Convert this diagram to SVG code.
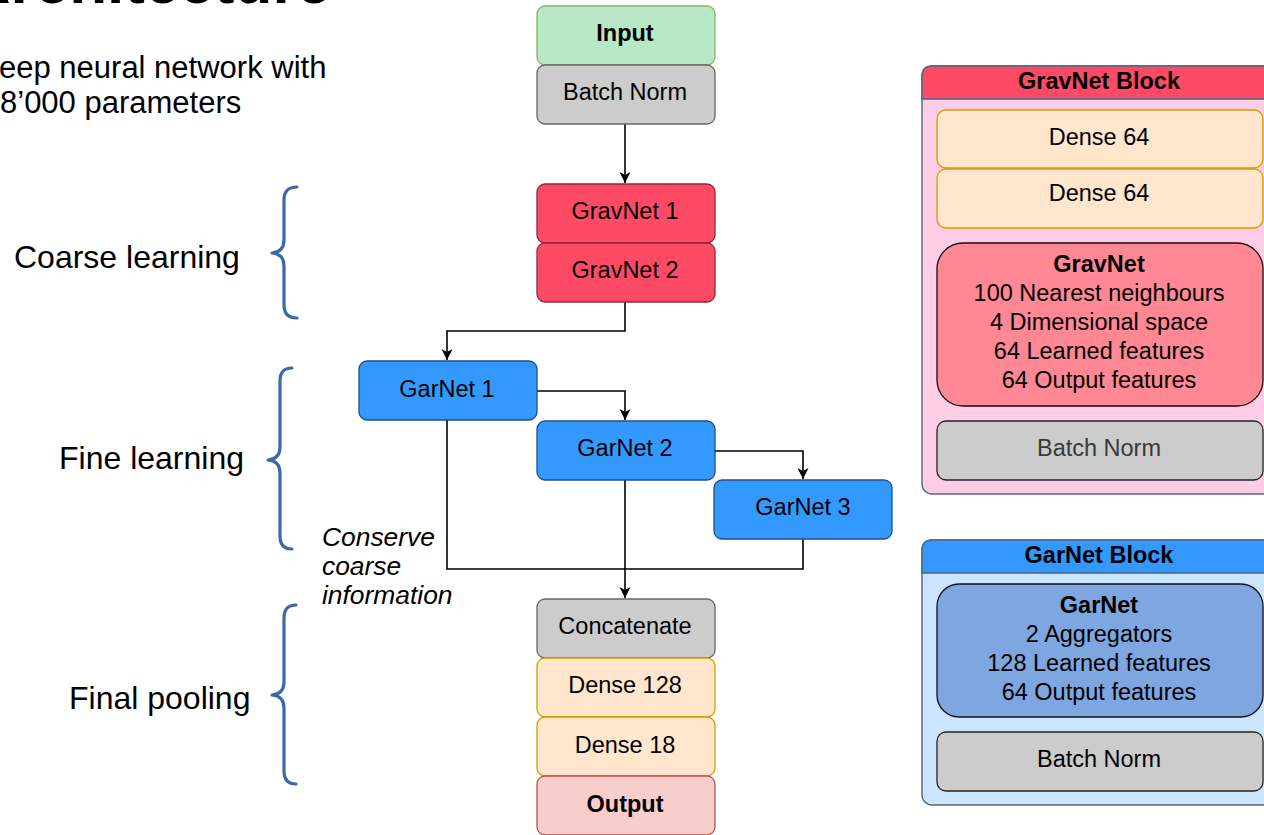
<svg xmlns="http://www.w3.org/2000/svg" width="1264" height="835" viewBox="0 0 1264 835">
  <style>
    text { font-family: "Liberation Sans", Arial, sans-serif; fill: #000; }
    .lbl { font-size: 23.5px; text-anchor: middle; }
    .b { font-weight: bold; }
    .sub { font-size: 31px; }
    .side { font-size: 32px; }
    .note { font-size: 26.4px; font-style: italic; }
    .brace { fill: none; stroke: #3b68a8; stroke-width: 3.2; stroke-linecap: round; stroke-linejoin: round; }
    .edge { fill: none; stroke: #000; stroke-width: 1.6; }
    .in { fill: #b9e8c6; stroke: #82b366; stroke-width: 1.3; }
    .gray { fill: #cccccc; stroke: #666666; stroke-width: 1.3; }
    .grav { fill: #ff4a66; stroke: #8f2a3a; stroke-width: 1.3; }
    .gar { fill: #3399ff; stroke: #1f4f82; stroke-width: 1.3; }
    .dense { fill: #ffe6cc; stroke: #d79b00; stroke-width: 1.3; }
    .out { fill: #f8cecc; stroke: #b85450; stroke-width: 1.3; }
    .panel { stroke: #4d6685; stroke-width: 1.4; }
  </style>
  <defs>
    <marker id="arrow" markerWidth="12" markerHeight="12" viewBox="0 0 12 12" refX="11" refY="6" orient="auto" markerUnits="userSpaceOnUse">
      <path d="M0,0.5 L11,6 L0,11.5 L3,6 Z" fill="#000"/>
    </marker>
  </defs>

  <!-- slide heading and subtitle -->
  <g id="heading">
    <text x="331" y="3" font-size="62" font-weight="bold" text-anchor="end">Architecture</text>
    <text x="-1" y="78" class="sub">eep neural network with</text>
    <text x="0" y="113" class="sub">8’000 parameters</text>
  </g>

  <!-- stage labels with braces -->
  <g id="stage-coarse">
    <text x="14" y="268" class="side">Coarse learning</text>
    <path class="brace" d="M297,187 Q284,187 284,200 L284,240 Q284,252 272,253 Q284,254 284,266 L284,305 Q284,318 297,318"/>
  </g>
  <g id="stage-fine">
    <text x="59" y="469" class="side">Fine learning</text>
    <path class="brace" d="M292,368 Q280,368 280,381 L280,447 Q280,459 268,460 Q280,461 280,473 L280,536 Q280,549 292,549"/>
  </g>
  <g id="stage-final">
    <text x="69" y="709" class="side">Final pooling</text>
    <path class="brace" d="M296,605 Q284,605 284,618 L284,682 Q284,694 272,695 Q284,696 284,708 L284,771 Q284,784 296,784"/>
  </g>

  <!-- connectors -->
  <g id="connectors">
    <path class="edge" d="M625,124 L625,183" marker-end="url(#arrow)"/>
    <path class="edge" d="M625,302 L625,331 L447,331 L447,360" marker-end="url(#arrow)"/>
    <path class="edge" d="M537,391 L625,391 L625,420" marker-end="url(#arrow)"/>
    <path class="edge" d="M715,451 L803,451 L803,479" marker-end="url(#arrow)"/>
    <path class="edge" d="M447,420 L447,569 L803,569 L803,539"/>
    <path class="edge" d="M625,480 L625,598" marker-end="url(#arrow)"/>
  </g>

  <!-- main network column -->
  <g id="node-input">
    <rect class="in" x="537" y="6" width="178" height="59" rx="8"/>
    <text class="lbl b" x="625" y="41">Input</text>
  </g>
  <g id="node-batchnorm">
    <rect class="gray" x="537" y="65" width="178" height="59" rx="8"/>
    <text class="lbl" x="625" y="100">Batch Norm</text>
  </g>
  <g id="node-gravnet1">
    <rect class="grav" x="537" y="184" width="178" height="59" rx="8"/>
    <text class="lbl" x="625" y="219">GravNet 1</text>
  </g>
  <g id="node-gravnet2">
    <rect class="grav" x="537" y="243" width="178" height="59" rx="8"/>
    <text class="lbl" x="625" y="278">GravNet 2</text>
  </g>
  <g id="node-garnet1">
    <rect class="gar" x="359" y="361" width="178" height="59" rx="8"/>
    <text class="lbl" x="447" y="397">GarNet 1</text>
  </g>
  <g id="node-garnet2">
    <rect class="gar" x="537" y="421" width="178" height="59" rx="8"/>
    <text class="lbl" x="625" y="456">GarNet 2</text>
  </g>
  <g id="node-garnet3">
    <rect class="gar" x="714" y="480" width="178" height="59" rx="8"/>
    <text class="lbl" x="803" y="515">GarNet 3</text>
  </g>
  <g id="note-conserve">
    <text class="note" x="322" y="546">Conserve</text>
    <text class="note" x="322" y="575">coarse</text>
    <text class="note" x="322" y="604">information</text>
  </g>
  <g id="node-concatenate">
    <rect class="gray" x="537" y="599" width="178" height="59" rx="8"/>
    <text class="lbl" x="625" y="634">Concatenate</text>
  </g>
  <g id="node-dense128">
    <rect class="dense" x="537" y="658" width="178" height="59" rx="8"/>
    <text class="lbl" x="625" y="693">Dense 128</text>
  </g>
  <g id="node-dense18">
    <rect class="dense" x="537" y="717" width="178" height="59" rx="8"/>
    <text class="lbl" x="625" y="753">Dense 18</text>
  </g>
  <g id="node-output">
    <rect class="out" x="537" y="776" width="178" height="59" rx="8"/>
    <text class="lbl b" x="625" y="812">Output</text>
  </g>

  <!-- GravNet block detail -->
  <g id="gravnet-block">
    <rect class="panel" x="922" y="66" width="356" height="428" rx="10" fill="#ffcce6"/>
    <path class="panel" d="M922,99 L922,76 Q922,66 932,66 L1268,66 Q1278,66 1278,76 L1278,99 Z" fill="#ff4a66"/>
    <text class="lbl b" x="1099" y="89">GravNet Block</text>
    <rect class="dense" x="937" y="110" width="326" height="58" rx="9"/>
    <text class="lbl" x="1099" y="145">Dense 64</text>
    <rect class="dense" x="937" y="169" width="326" height="59" rx="9"/>
    <text class="lbl" x="1099" y="201">Dense 64</text>
    <rect x="937" y="243" width="326" height="163" rx="26" fill="#ff8894" stroke="#111" stroke-width="1.3"/>
    <text class="lbl b" x="1099" y="272">GravNet</text>
    <text class="lbl" x="1099" y="301">100 Nearest neighbours</text>
    <text class="lbl" x="1099" y="330">4 Dimensional space</text>
    <text class="lbl" x="1099" y="359">64 Learned features</text>
    <text class="lbl" x="1099" y="388">64 Output features</text>
    <rect x="937" y="421" width="326" height="59" rx="9" fill="#cccccc" stroke="#222" stroke-width="1.3"/>
    <text class="lbl" x="1099" y="456" style="fill:#3a3a3a">Batch Norm</text>
  </g>

  <!-- GarNet block detail -->
  <g id="garnet-block">
    <rect class="panel" x="922" y="540" width="356" height="265" rx="10" fill="#cce5ff"/>
    <path class="panel" d="M922,573 L922,550 Q922,540 932,540 L1268,540 Q1278,540 1278,550 L1278,573 Z" fill="#3399ff"/>
    <text class="lbl b" x="1099" y="563">GarNet Block</text>
    <rect x="937" y="584" width="326" height="133" rx="22" fill="#7ea6e0" stroke="#111" stroke-width="1.3"/>
    <text class="lbl b" x="1099" y="613">GarNet</text>
    <text class="lbl" x="1099" y="642">2 Aggregators</text>
    <text class="lbl" x="1099" y="671">128 Learned features</text>
    <text class="lbl" x="1099" y="700">64 Output features</text>
    <rect x="937" y="732" width="326" height="59" rx="9" fill="#cccccc" stroke="#222" stroke-width="1.3"/>
    <text class="lbl" x="1099" y="767">Batch Norm</text>
  </g>
</svg>
